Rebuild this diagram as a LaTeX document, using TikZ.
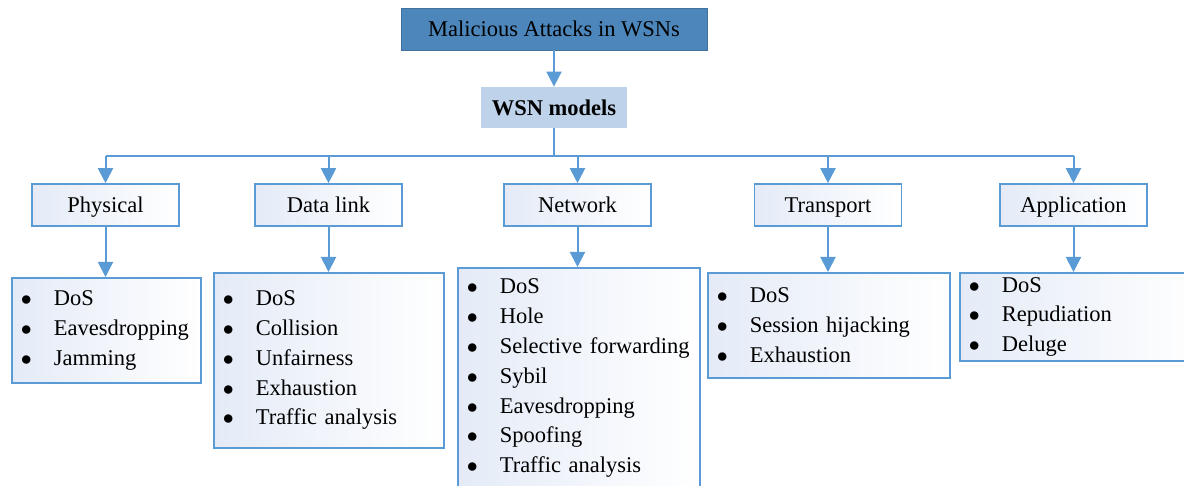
\documentclass[tikz,border=0pt]{standalone}
\usepackage{fontspec}
\setmainfont{Liberation Serif}
\usepackage{tikz}
\usetikzlibrary{arrows.meta,positioning,calc}
\usepackage{xcolor}
\definecolor{linkblue}{RGB}{91,155,213}
\definecolor{rootfill}{RGB}{76,134,187}
\definecolor{rootdraw}{RGB}{65,113,156}
\definecolor{modelfill}{RGB}{190,210,233}
\definecolor{tint}{RGB}{228,235,247}

% one bullet line of an attack list
\newcommand{\atk}[1]{\makebox[16.5pt][l]{$\bullet$}#1}

\begin{document}
\begin{tikzpicture}[
  x=0.5pt, y=-0.5pt,
  every node/.style={font=\fontsize{11.25pt}{14.9pt}\selectfont},
  rootbox/.style={draw=rootdraw, fill=rootfill, minimum width=153pt, minimum height=21pt, inner sep=0pt},
  modelbox/.style={fill=modelfill, minimum width=73pt, minimum height=20.5pt, inner sep=0pt, font=\fontsize{11.25pt}{14.9pt}\selectfont\bfseries},
  layer/.style={draw=linkblue, line width=0.8pt, left color=tint, right color=white, minimum width=73.5pt, minimum height=21pt, inner sep=0pt, text height=9.6pt, text depth=2.4pt},
  attacks/.style={draw=linkblue, line width=0.8pt, left color=tint, right color=white, anchor=north west, align=left, inner xsep=4.5pt, inner ysep=0pt},
  link/.style={draw=linkblue, line width=1pt},
  arr/.style={link, -{Triangle[length=7.5pt,width=7.5pt]}},
]
\clip (0,0) rectangle (1184,486);

\node[rootbox] (root) at (554,29) {Malicious Attacks in WSNs};
\node[modelbox] (model) at (554,107.5) {WSN models};

% protocol layers
\node[layer] (phys) at (105.5,205) {Physical};
\node[layer] (dlink) at (328.5,205) {Data link};
\node[layer] (net) at (577.5,205) {Network};
\node[layer] (trans) at (828,205) {Transport};
\node[layer] (appl) at (1073.5,205) {Application};

% attack lists
\node[attacks, text width=85.5pt, minimum height=52.5pt] (physlist) at (11,277)
  {\atk{DoS}\\\atk{Eavesdropping}\\\atk{Jamming}};
\node[attacks, text width=106pt, minimum height=87.5pt] (dlinklist) at (213,272)
  {\atk{DoS}\\\atk{Collision}\\\atk{Unfairness}\\\atk{Exhaustion}\\\atk{Traffic analysis}};
\node[attacks, text width=112pt, minimum height=110.5pt] (netlist) at (457,267)
  {\atk{DoS}\\\atk{Hole}\\\atk{Selective forwarding}\\\atk{Sybil}\\\atk{Eavesdropping}\\\atk{Spoofing}\\\atk{Traffic analysis}};
\node[attacks, text width=112pt, minimum height=52.5pt] (translist) at (707,272)
  {\atk{DoS}\\\atk{Session hijacking}\\\atk{Exhaustion}};
\node[attacks, text width=112pt, minimum height=44pt] (appllist) at (959,272)
  {\atk{DoS}\\\atk{Repudiation}\\\atk{Deluge}};

% bus between the model box and the layers
\coordinate (busL) at (105.5,156);
\coordinate (busR) at (1073.5,156);

\draw[arr] (root) -- (model);
\draw[link] (model) -- (model |- busL);
\draw[link] (busL) -- (busR);
\foreach \l in {phys,dlink,net,trans,appl} {
  \draw[arr] (\l |- busL) -- (\l);
  \draw[arr] (\l) -- (\l |- \l list.north);
}
\end{tikzpicture}
\end{document}
